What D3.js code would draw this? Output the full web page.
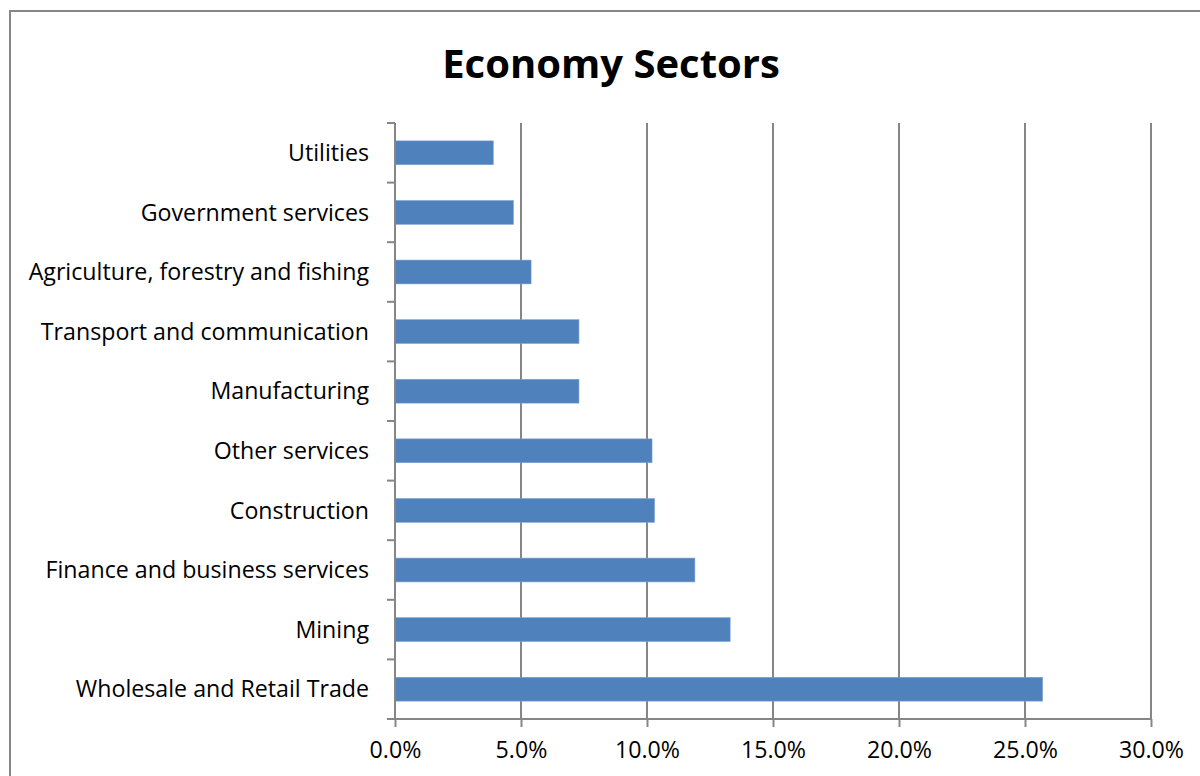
<!DOCTYPE html>
<html>
<head>
<meta charset="utf-8">
<script src="https://cdn.jsdelivr.net/npm/d3@7"></script>
<style>
  html, body { margin: 0; padding: 0; background: #fff; }
  svg { display: block; }
  text { font-family: "Open Sans", Lato, sans-serif; fill: #000; font-variant-ligatures: none; }
</style>
</head>
<body>
<svg id="chart" width="1200" height="776"></svg>
<script>
// Share of the economy by sector, listed top to bottom
const sectors = [
  "Utilities",
  "Government services",
  "Agriculture, forestry and fishing",
  "Transport and communication",
  "Manufacturing",
  "Other services",
  "Construction",
  "Finance and business services",
  "Mining",
  "Wholesale and Retail Trade"
];
const shares = [0.039, 0.047, 0.054, 0.073, 0.073, 0.102, 0.103, 0.119, 0.133, 0.257];
const xTicks = [0, 0.05, 0.10, 0.15, 0.20, 0.25, 0.30];
const chartTitle = "Economy Sectors";

const svg = d3.select("#chart");
const gray = "#868686";

// outer chart frame
svg.append("rect")
  .attr("x", 10).attr("y", 11)
  .attr("width", 1300).attr("height", 900)
  .attr("fill", "#fff")
  .attr("stroke", gray).attr("stroke-width", 2);

const plotLeft = 395, plotRight = 1151, plotTop = 123, plotBottom = 719;

const x = d3.scaleLinear().domain([0, 0.30]).range([plotLeft, plotRight]);
const y = d3.scaleBand().domain(sectors).range([plotTop, plotBottom]).paddingInner(0.6).paddingOuter(0.3);
const yb = d3.scaleBand().domain(sectors).range([plotTop, plotBottom]);

// title
svg.append("text")
  .attr("x", 611).attr("y", 78)
  .attr("text-anchor", "middle")
  .style("font-weight", "bold")
  .style("font-size", "40px")
  .text(chartTitle);

// vertical gridlines
svg.append("g").selectAll("line")
  .data(xTicks.slice(1))
  .join("line")
  .attr("x1", d => x(d)).attr("x2", d => x(d))
  .attr("y1", plotTop).attr("y2", plotBottom)
  .attr("stroke", gray).attr("stroke-width", 2);

// bars
svg.append("g").selectAll("rect")
  .data(sectors)
  .join("rect")
  .attr("x", x(0))
  .attr("y", d => y(d))
  .attr("width", (d, i) => x(shares[i]) - x(0))
  .attr("height", y.bandwidth())
  .attr("fill", "#4F81BD")
  .attr("stroke", "#7fa3d0").attr("stroke-width", 0.6);

// category axis
const yAxis = svg.append("g")
  .attr("transform", `translate(${plotLeft},0)`);
yAxis.append("line")
  .attr("x1", 0).attr("x2", 0).attr("y1", plotTop).attr("y2", plotBottom)
  .attr("stroke", gray).attr("stroke-width", 2);
const bounds = sectors.map(s => yb(s)).concat([plotBottom]);
yAxis.selectAll("line.tick")
  .data(bounds)
  .join("line")
  .attr("class", "tick")
  .attr("x1", -8).attr("x2", 0)
  .attr("y1", d => d).attr("y2", d => d)
  .attr("stroke", gray).attr("stroke-width", 2);
yAxis.selectAll("text")
  .data(sectors)
  .join("text")
  .attr("x", -26)
  .attr("y", d => yb(d) + yb.bandwidth() / 2)
  .attr("dy", "0.35em")
  .attr("text-anchor", "end")
  .style("font-size", "23.2px")
  .text(d => d);

// value axis
const xAxis = d3.axisBottom(x)
  .tickValues(xTicks)
  .tickFormat(d3.format(".1%"))
  .tickSize(8)
  .tickPadding(15);
const gx = svg.append("g")
  .attr("transform", `translate(0,${plotBottom})`)
  .call(xAxis);
gx.select(".domain").remove();
gx.append("line")
  .attr("x1", plotLeft - 8).attr("x2", plotRight).attr("y1", 0).attr("y2", 0)
  .attr("stroke", gray).attr("stroke-width", 2);
gx.selectAll(".tick line").attr("stroke", gray).attr("stroke-width", 2);
gx.selectAll(".tick text")
  .style("font-family", "'Open Sans', Lato, sans-serif")
  .style("font-size", "23.2px")
  .attr("fill", "#000");
</script>
</body>
</html>
